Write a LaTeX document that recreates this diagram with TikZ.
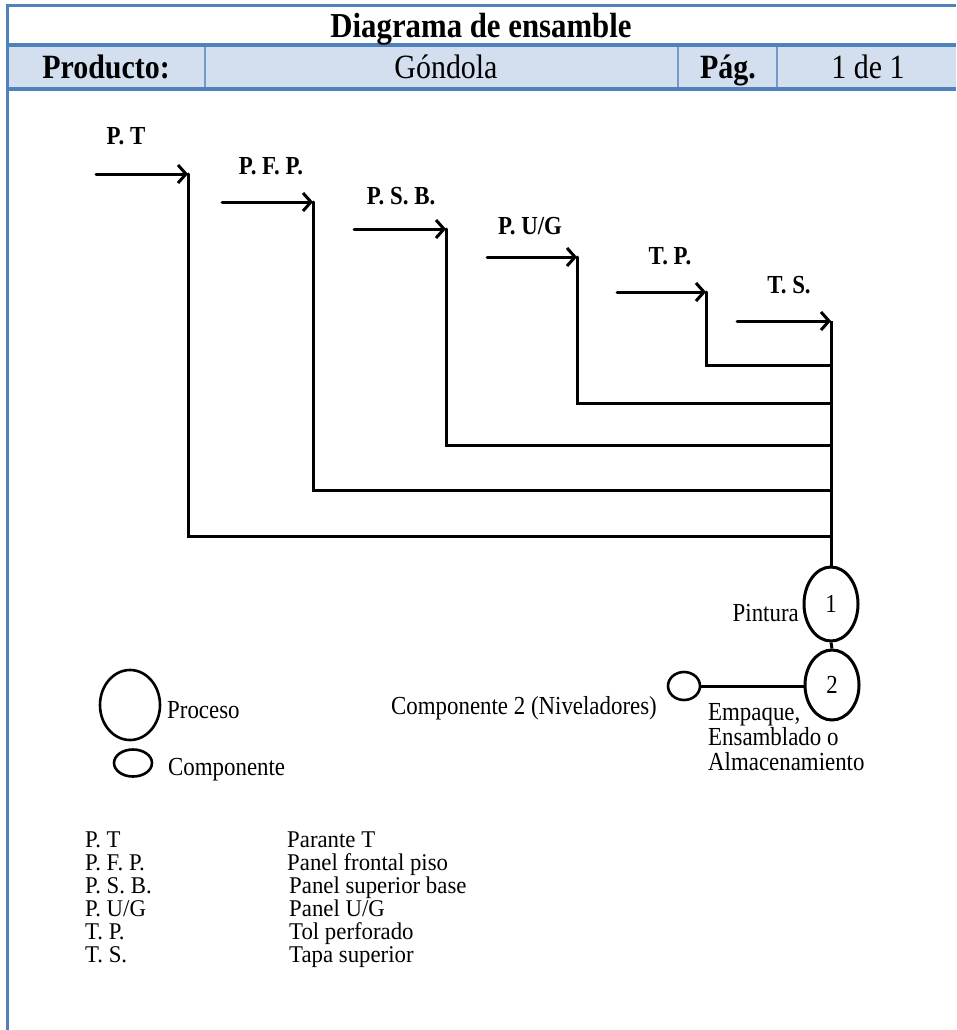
\documentclass[tikz,border=0pt]{standalone}
\usepackage{fontspec}
\setmainfont{Liberation Serif}[FakeStretch=0.88]
\newfontfamily\listfont{Liberation Serif}[FakeStretch=0.95]
\usetikzlibrary{arrows.meta,shapes.geometric}
\definecolor{frameblue}{HTML}{4F81BD}
\definecolor{headfill}{HTML}{D3DFEE}

\begin{document}
\begin{tikzpicture}[x=1pt,y=-1pt,
  flow/.style={line width=3pt, black, line cap=round, line join=miter},
  feed/.style={flow, -{Straight Barb[length=8pt,width=18pt]}},
  proc/.style={draw, ellipse, line width=3pt, inner sep=0pt,
    minimum width=54pt, minimum height=74pt, font=\fontsize{26}{28}\selectfont},
  comp/.style={draw, ellipse, line width=2.6pt, inner sep=0pt,
    minimum width=32pt, minimum height=28pt},
  tag/.style={font=\fontsize{26}{28}\selectfont\bfseries, inner sep=0pt, anchor=base},
  txt/.style={font=\fontsize{26}{28}\selectfont, inner sep=0pt},
  lst/.style={font=\listfont\fontsize{24}{25}\selectfont, inner sep=0pt, anchor=base west},
  head/.style={font=\fontsize{34}{36}\selectfont, inner sep=0pt, anchor=base},
  sep/.style={frameblue!80, line width=1.2pt},
  rule/.style={frameblue, line width=4pt}
]
\useasboundingbox (0,0) rectangle (956,1030);

% header table
\fill[headfill] (7,46) rectangle (956,88);
\draw[sep] (205,47) -- (205,87);
\draw[sep] (678,47) -- (678,87);
\draw[sep] (777,47) -- (777,87);
\draw[frameblue, line width=3pt] (5.5,6) -- (956,6);
\draw[rule] (7,45) -- (956,45);
\draw[rule] (7,89) -- (956,89);
\draw[frameblue, line width=3pt] (7,4.5) -- (7,1030);

\node[head, font=\fontsize{35}{36}\selectfont\bfseries] (title) at (481,38) {Diagrama de ensamble};
\node[head, font=\fontsize{34}{36}\selectfont\bfseries] (hprod) at (106,79) {Producto:};
\node[head] (hname) at (446,79) {Góndola};
\node[head, font=\fontsize{34}{36}\selectfont\bfseries] (hpag) at (728,79) {Pág.};
\node[head] (hnum) at (868,79) {1 de 1};

% incoming parts
\coordinate (s1) at (96,174);  \coordinate (j1) at (188,174); \coordinate (t1) at (831,536);
\coordinate (s2) at (222,202); \coordinate (j2) at (313,202); \coordinate (t2) at (831,490);
\coordinate (s3) at (354,229); \coordinate (j3) at (446,229); \coordinate (t3) at (831,445);
\coordinate (s4) at (487,257); \coordinate (j4) at (577,257); \coordinate (t4) at (831,403);
\coordinate (s5) at (617,292); \coordinate (j5) at (706,292); \coordinate (t5) at (831,365);
\coordinate (s6) at (737,321); \coordinate (j6) at (831,321);

\node[tag] (l1) at (126,144) {P. T};
\node[tag] (l2) at (271,174) {P. F. P.};
\node[tag] (l3) at (401,204) {P. S. B.};
\node[tag] (l4) at (530,234) {P. U/G};
\node[tag] (l5) at (670,264) {T. P.};
\node[tag] (l6) at (789,293) {T. S.};

\draw[feed] (s1) -- (j1);
\draw[feed] (s2) -- (j2);
\draw[feed] (s3) -- (j3);
\draw[feed] (s4) -- (j4);
\draw[feed] (s5) -- (j5);
\draw[feed] (s6) -- (j6);

\draw[flow] (j1) |- (t1);
\draw[flow] (j2) |- (t2);
\draw[flow] (j3) |- (t3);
\draw[flow] (j4) |- (t4);
\draw[flow] (j5) |- (t5);

% operations
\node[proc] (op1) at (831,604) {1};
\node[proc, minimum height=70pt] (op2) at (832,685) {2};
\node[comp] (c2) at (684,686) {};
\draw[flow, line cap=butt] (j6) -- (op1.north);
\draw[flow, line cap=butt] (op1.south) -- (op2.north);
\draw[flow, line cap=butt] (c2.east) -- (c2.east -| op2.west);

\node[txt, anchor=base east] (pint) at (799,621) {Pintura};
\node[txt, anchor=base east] (c2txt) at (657,714) {Componente 2 (Niveladores)};
\node[txt, anchor=base west] (e1) at (708,720) {Empaque,};
\node[txt, anchor=base west] (e2) at (708,745) {Ensamblado o};
\node[txt, anchor=base west] (e3) at (708,770) {Almacenamiento};

% legend
\node[proc, minimum width=60pt, minimum height=70pt, line width=2.6pt] (lgp) at (130,705) {};
\node[txt, anchor=base west] (lgptxt) at (167,718) {Proceso};
\node[comp, minimum width=38pt, minimum height=27pt] (lgc) at (133,763) {};
\node[txt, anchor=base west] (lgctxt) at (168,775) {Componente};

% abbreviations
\node[lst] (a1) at (85,847) {P. T};
\node[lst] (a2) at (85,870) {P. F. P.};
\node[lst] (a3) at (85,893) {P. S. B.};
\node[lst] (a4) at (85,916) {P. U/G};
\node[lst] (a5) at (85,939) {T. P.};
\node[lst] (a6) at (85,962) {T. S.};
\node[lst] (d1) at (287,847) {Parante T};
\node[lst] (d2) at (287,870) {Panel frontal piso};
\node[lst] (d3) at (289,893) {Panel superior base};
\node[lst] (d4) at (289,916) {Panel U/G};
\node[lst] (d5) at (289,939) {Tol perforado};
\node[lst] (d6) at (289,962) {Tapa superior};
\end{tikzpicture}
\end{document}
